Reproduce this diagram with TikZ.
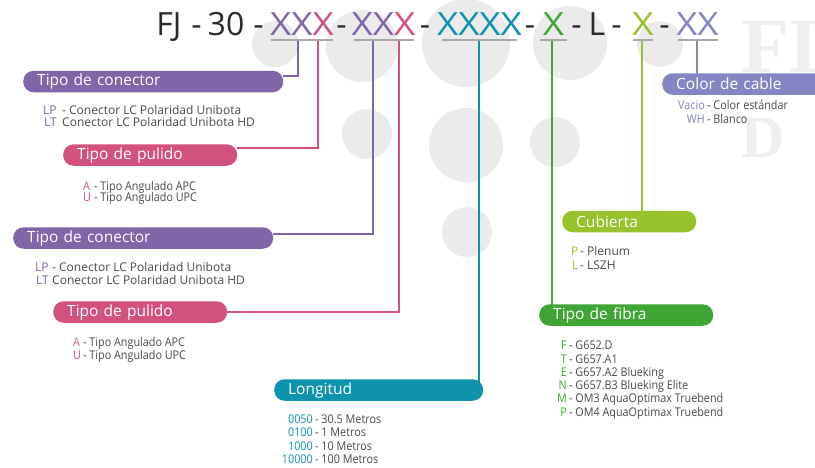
\documentclass[tikz,border=0pt]{standalone}
\usepackage{fontspec}
\setmainfont{Open Sans}
\newfontfamily\titlefont[FakeStretch=1.15]{Open Sans}
\newfontfamily\condfont[FakeStretch=0.9]{Open Sans}
\newfontfamily\wmfont{Liberation Serif}
\definecolor{cpurple}{HTML}{8264A8}
\definecolor{cpink}{HTML}{D3527C}
\definecolor{cteal}{HTML}{0F93AD}
\definecolor{cgreen}{HTML}{3FA535}
\definecolor{clime}{HTML}{96C22B}
\definecolor{clav}{HTML}{8486C3}
\definecolor{ctitle}{HTML}{2A2A2A}
\definecolor{cdesc}{HTML}{4A4A4A}
\definecolor{cunder}{HTML}{A8A8A8}
\definecolor{ccirc}{HTML}{EBEBEB}
\definecolor{cwm}{HTML}{EFEFEF}
\pgfdeclarelayer{bg}
\pgfdeclarelayer{conn}
\pgfsetlayers{bg,conn,main}
\tikzset{
  ttl/.style={font=\titlefont\fontsize{32}{36}\selectfont, text=ctitle, anchor=base, inner sep=0pt},
  ttn/.style={font=\fontsize{32}{36}\selectfont, text=ctitle, anchor=base, inner sep=0pt},
  uline/.style={draw=cunder, line width=2pt},
  ln/.style={line width=2pt},
  pill/.style={rounded corners=10.5pt, minimum height=21.5pt, anchor=west, inner xsep=14pt, inner ysep=0pt, text=white, font=\fontsize{15.5}{18}\selectfont, align=left},
  desc/.style={font=\fontsize{12}{14}\selectfont, text=cdesc, inner sep=0pt, anchor=base west},
  cdesc/.style={font=\condfont\fontsize{12}{14}\selectfont, text=cdesc, inner sep=0pt, anchor=base west},
  code/.style={font=\fontsize{12}{14}\selectfont, inner sep=0pt, anchor=base west},
  ccode/.style={font=\condfont\fontsize{12}{14}\selectfont, inner sep=0pt, anchor=base east},
  circ/.style={fill=ccirc, draw=none},
}
\begin{document}
\begin{tikzpicture}[x=1pt,y=-1pt]
\useasboundingbox (0,0) rectangle (815,467);
\clip (0,0) rectangle (815,467);

% background
\begin{pgfonlayer}{bg}
\fill[white] (0,0) rectangle (815,467);
\node[text=cwm, anchor=base west, inner sep=0pt, font=\wmfont\bfseries\fontsize{78}{80}\selectfont] (wm1) at (741,72) {FI};
\node[text=cwm, anchor=base west, inner sep=0pt, font=\wmfont\bfseries\fontsize{60}{60}\selectfont] (wm2) at (741,157) {D};
\fill[circ] (275,44) circle (23pt);
\fill[circ] (362,46) circle (36pt);
\fill[circ] (466,43) circle (44pt);
\fill[circ] (570,43) circle (37pt);
\fill[circ] (660,44) circle (23pt);
\fill[circ] (367,134) circle (25pt);
\fill[circ] (466,145) circle (37pt);
\fill[circ] (555,142) circle (25pt);
\fill[circ] (467,232) circle (25pt);
\end{pgfonlayer}

% title
\node[ttn] (fj) at (169,35.7) {FJ};
\node[ttn] (d1) at (196.5,35.7) {-};
\node[ttn] (n30) at (226,35.7) {30};
\node[ttn] (d2) at (258.5,35.7) {-};
\node[ttl] (g1) at (302,35.7) {\textcolor{cpurple}{XX}\textcolor{cpink}{X}};
\node[ttn] (d3) at (341.5,35.7) {-};
\node[ttl] (g2) at (383.5,35.7) {\textcolor{cpurple}{XX}\textcolor{cpink}{X}};
\node[ttn] (d4) at (425,35.7) {-};
\node[ttl, text=cteal] (g3) at (479.5,35.7) {XXXX};
\node[ttn] (d5) at (530,35.7) {-};
\node[ttl, text=cgreen] (g4) at (553.5,35.7) {X};
\node[ttn] (d6) at (576.5,35.7) {-};
\node[ttn] (gl) at (597,35.7) {L};
\node[ttn] (d7) at (616.5,35.7) {-};
\node[ttl, text=clime] (g5) at (643,35.7) {X};
\node[ttn] (d8) at (664.5,35.7) {-};
\node[ttl, text=clav] (g6) at (697.5,35.7) {XX};

% underlines
\draw[uline] (271,39.5) -- (333,39.5);
\draw[uline] (354,39.5) -- (414,39.5);
\draw[uline] (442,39.5) -- (517,39.5);
\draw[uline] (540,39.5) -- (567,39.5);
\draw[uline] (633,39.5) -- (653,39.5);
\draw[uline] (678,39.5) -- (718,39.5);

\coordinate (t1) at (298,40.5);
\coordinate (t2) at (318,40.5);
\coordinate (t3) at (373,40.5);
\coordinate (t4) at (399,40.5);
\coordinate (t5) at (478.5,40.5);
\coordinate (t6) at (552,40.5);
\coordinate (t7) at (642,40.5);
\coordinate (t8) at (697,40.5);

% pills
\node[pill, fill=cpurple, text width=232pt] (p1) at (23,81.5) {Tipo de conector};
\node[pill, fill=cpink, text width=146pt] (p2) at (63,155) {Tipo de pulido};
\node[pill, fill=cpurple, text width=232pt] (p3) at (13,238) {Tipo de conector};
\node[pill, fill=cpink, text width=146pt] (p4) at (53,312) {Tipo de pulido};
\node[pill, fill=cteal, text width=181pt] (p5) at (274,390) {Longitud};
\node[pill, fill=cgreen, text width=146pt] (p6) at (539,315) {Tipo de fibra};
\node[pill, fill=clime, text width=106pt] (p7) at (562,221.5) {Cubierta};
\node[pill, fill=clav, text width=142pt] (p8) at (662,84) {Color de cable};

% connectors
\begin{pgfonlayer}{conn}
\draw[ln, cpurple] (t1) |- ([yshift=6pt]p1.east);
\draw[ln, cpink] (t2) |- ([yshift=7.5pt]p2.east);
\draw[ln, cpurple] (t3) |- ([yshift=4pt]p3.east);
\draw[ln, cpink] (t4) |- (p4.east);
\draw[ln, cteal] (t5) -- (t5 |- p5.center);
\draw[ln, cgreen] (t6) -- (t6 |- p6.center);
\draw[ln, clime] (t7) -- (t7 |- p7.center);
\draw[ln, clav] (t8) -- (t8 |- p8.center);
\end{pgfonlayer}

% block 1
\node[code, text=cpurple] (b1c1) at (43,114) {LP};
\node[desc] (b1d1) at (62,114) {- Conector LC Polaridad Unibota};
\node[code, text=cpurple] (b1c2) at (44,126.5) {LT};
\node[desc] (b1d2) at (62,126.5) {Conector LC Polaridad Unibota HD};
% block 2
\node[code, text=cpink, font=\condfont\fontsize{12}{14}\selectfont] (b2c1) at (83,190) {A};
\node[cdesc] (b2d1) at (94,190) {- Tipo Angulado APC};
\node[code, text=cpink, font=\condfont\fontsize{12}{14}\selectfont] (b2c2) at (83,201.7) {U};
\node[cdesc] (b2d2) at (94,201.7) {- Tipo Angulado UPC};
% block 3
\node[code, text=cpurple] (b3c1) at (35,271.5) {LP};
\node[desc] (b3d1) at (52,271.5) {- Conector LC Polaridad Unibota};
\node[code, text=cpurple] (b3c2) at (36,284) {LT};
\node[desc] (b3d2) at (52,284) {Conector LC Polaridad Unibota HD};
% block 4
\node[code, text=cpink, font=\condfont\fontsize{12}{14}\selectfont] (b4c1) at (73,346) {A};
\node[cdesc] (b4d1) at (83,346) {- Tipo Angulado APC};
\node[code, text=cpink, font=\condfont\fontsize{12}{14}\selectfont] (b4c2) at (73,359.5) {U};
\node[cdesc] (b4d2) at (83,359.5) {- Tipo Angulado UPC};
% longitud
\node[ccode, text=cteal] (l1c) at (313,423) {0050};
\node[cdesc] (l1d) at (315,423) {- 30.5 Metros};
\node[ccode, text=cteal] (l2c) at (313,436) {0100};
\node[cdesc] (l2d) at (315,436) {- 1 Metros};
\node[ccode, text=cteal] (l3c) at (313,450) {1000};
\node[cdesc] (l3d) at (315,450) {- 10 Metros};
\node[ccode, text=cteal] (l4c) at (313,463) {10000};
\node[cdesc] (l4d) at (315,463) {- 100 Metros};
% fibra
\node[ccode, text=cgreen] (f1c) at (567,349) {F};
\node[cdesc] (f1d) at (569,349) {- G652.D};
\node[ccode, text=cgreen] (f2c) at (567,363) {T};
\node[cdesc] (f2d) at (569,363) {- G657.A1};
\node[ccode, text=cgreen] (f3c) at (567,376) {E};
\node[cdesc] (f3d) at (569,376) {- G657.A2 Blueking};
\node[ccode, text=cgreen] (f4c) at (567,389) {N};
\node[cdesc] (f4d) at (569,389) {- G657.B3 Blueking Elite};
\node[ccode, text=cgreen] (f5c) at (567,402.5) {M};
\node[cdesc] (f5d) at (569,402.5) {- OM3 AquaOptimax Truebend};
\node[ccode, text=cgreen] (f6c) at (567,416) {P};
\node[cdesc] (f6d) at (569,416) {- OM4 AquaOptimax Truebend};
% cubierta
\node[code, text=clime] (cu1c) at (571,255) {P};
\node[desc] (cu1d) at (580,255) {- Plenum};
\node[code, text=clime] (cu2c) at (572,269) {L};
\node[desc] (cu2d) at (580,269) {- LSZH};
% color
\node[ccode, text=clav] (co1c) at (705,109) {Vacio};
\node[cdesc] (co1d) at (707,109) {- Color estándar};
\node[ccode, text=clav] (co2c) at (705,123) {WH};
\node[cdesc] (co2d) at (707,123) {- Blanco};
\end{tikzpicture}
\end{document}
